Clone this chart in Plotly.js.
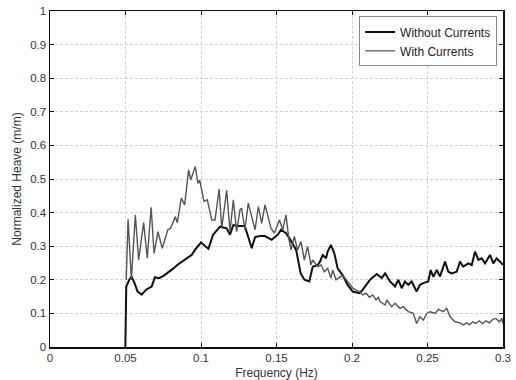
<!DOCTYPE html>
<html>
<head>
<meta charset="utf-8">
<script src="https://cdn.plot.ly/plotly-3.0.1.min.js"></script>
<style>
html,body{margin:0;padding:0;background:#fff;}
#chart{width:516px;height:380px;}
</style>
</head>
<body>
<div id="chart"></div>
<script>
// Without Currents (frequency in Hz, normalized heave in m/m)
const freqWithout = [0.0499,0.0505,0.0525,0.054,0.056,0.058,0.0595,0.0607,0.0625,0.064,0.0655,0.0673,0.0695,0.072,0.075,0.0785,0.0817,0.0845,0.0872,0.0905,0.0938,0.096,0.1,0.1049,0.108,0.1126,0.117,0.1192,0.1214,0.125,0.129,0.1336,0.1358,0.139,0.1424,0.1468,0.151,0.153,0.1563,0.1585,0.163,0.166,0.1685,0.1717,0.174,0.1773,0.1788,0.1806,0.1828,0.1839,0.186,0.1883,0.1905,0.1938,0.1971,0.2005,0.2049,0.207,0.2093,0.2119,0.2164,0.2197,0.2219,0.2252,0.2285,0.2307,0.2329,0.2351,0.2373,0.2395,0.2428,0.245,0.2472,0.2505,0.2521,0.2539,0.2561,0.2583,0.2616,0.2638,0.266,0.2693,0.2715,0.2737,0.277,0.2793,0.2815,0.2837,0.2859,0.2881,0.2914,0.2936,0.2958,0.2992,0.3];
const heaveWithout = [0,0.18,0.2,0.209,0.19,0.165,0.16,0.156,0.165,0.172,0.175,0.18,0.208,0.205,0.211,0.222,0.234,0.245,0.254,0.265,0.274,0.289,0.311,0.292,0.334,0.358,0.353,0.334,0.363,0.36,0.36,0.294,0.327,0.33,0.33,0.319,0.335,0.349,0.339,0.324,0.289,0.219,0.2,0.195,0.239,0.244,0.254,0.274,0.264,0.284,0.304,0.279,0.234,0.214,0.185,0.165,0.16,0.17,0.185,0.2,0.217,0.205,0.219,0.195,0.18,0.2,0.175,0.195,0.185,0.195,0.165,0.185,0.19,0.195,0.229,0.209,0.229,0.21,0.254,0.224,0.219,0.224,0.254,0.239,0.249,0.244,0.284,0.259,0.264,0.249,0.274,0.249,0.264,0.249,0.245];

// With Currents
const freqWith = [0.0505,0.0517,0.0539,0.0565,0.0587,0.062,0.0644,0.067,0.0689,0.0715,0.0744,0.078,0.0798,0.083,0.0843,0.087,0.0892,0.0918,0.0932,0.0962,0.098,0.0991,0.102,0.1042,0.1071,0.1093,0.112,0.1137,0.117,0.1192,0.1214,0.1236,0.1258,0.1269,0.1291,0.1313,0.1336,0.1358,0.138,0.1402,0.1424,0.1446,0.1464,0.1486,0.152,0.1541,0.1563,0.1581,0.1596,0.1618,0.164,0.1662,0.1684,0.1706,0.1728,0.1739,0.1773,0.1795,0.1817,0.1839,0.186,0.1872,0.1894,0.1938,0.1971,0.2005,0.2026,0.2049,0.2071,0.2093,0.2115,0.2137,0.2159,0.2175,0.2185,0.2219,0.223,0.2263,0.2285,0.2318,0.234,0.2373,0.2406,0.2428,0.245,0.2472,0.2495,0.2517,0.255,0.2572,0.2605,0.2627,0.2649,0.2682,0.2715,0.2737,0.276,0.2777,0.28,0.282,0.2843,0.2865,0.2887,0.291,0.2932,0.2954,0.2976,0.2992,0.3];
const heaveWith = [0.2,0.38,0.2,0.393,0.259,0.37,0.264,0.416,0.279,0.343,0.294,0.349,0.353,0.388,0.37,0.443,0.423,0.527,0.497,0.537,0.487,0.497,0.433,0.438,0.378,0.378,0.47,0.353,0.466,0.343,0.438,0.343,0.408,0.413,0.349,0.428,0.388,0.349,0.418,0.368,0.423,0.388,0.353,0.339,0.378,0.349,0.393,0.324,0.289,0.329,0.289,0.314,0.259,0.299,0.244,0.259,0.239,0.244,0.224,0.234,0.205,0.229,0.2,0.214,0.195,0.175,0.17,0.165,0.155,0.16,0.148,0.155,0.14,0.148,0.135,0.125,0.14,0.12,0.13,0.115,0.12,0.105,0.1,0.07,0.09,0.08,0.1,0.105,0.1,0.112,0.105,0.115,0.09,0.075,0.072,0.066,0.072,0.066,0.075,0.07,0.078,0.07,0.078,0.072,0.082,0.085,0.075,0.085,0.07];

const xTicks = [0,0.05,0.1,0.15,0.2,0.25,0.3];
const yTicks = [0,0.1,0.2,0.3,0.4,0.5,0.6,0.7,0.8,0.9,1];

const FAM = '"Liberation Sans", Arial, sans-serif';
const tickFont = {family:FAM, size:11.5, color:'#333'};
const titleFont = {family:FAM, size:12, color:'#333'};

const traces = [
  {x:freqWithout, y:heaveWithout, mode:'lines', name:'Without Currents',
   line:{color:'#111', width:2}},
  {x:freqWith, y:heaveWith, mode:'lines', name:'With Currents',
   line:{color:'#555', width:1.4}}
];

const axisCommon = {
  showline:true, linecolor:'#111', linewidth:1.5, mirror:'ticks',
  ticks:'inside', ticklen:4, tickcolor:'#111',
  showgrid:true, gridcolor:'#d2d2d2', griddash:'3px,2px', gridwidth:1,
  zeroline:false, tickfont:tickFont
};

const layout = {
  width:516, height:380,
  margin:{l:50, r:13, t:11, b:33},
  paper_bgcolor:'#fff', plot_bgcolor:'#fff',
  font:tickFont,
  showlegend:true,
  legend:{x:0.987, y:0.984, xanchor:'right', yanchor:'top',
    bgcolor:'#fff', bordercolor:'#888', borderwidth:1,
    font:{family:FAM, size:12, color:'#222'},
    tracegroupgap:0, itemwidth:30},
  xaxis:Object.assign({}, axisCommon, {
    range:[0,0.3], tickvals:xTicks, ticktext:xTicks.map(String),
    title:{text:'Frequency (Hz)', font:titleFont, standoff:6}
  }),
  yaxis:Object.assign({}, axisCommon, {
    range:[0,1], tickvals:yTicks, ticktext:yTicks.map(String),
    title:{text:'Normalized Heave (m/m)', font:titleFont, standoff:6}
  })
};

Plotly.newPlot('chart', traces, layout, {displayModeBar:false, staticPlot:true});
</script>
</body>
</html>
